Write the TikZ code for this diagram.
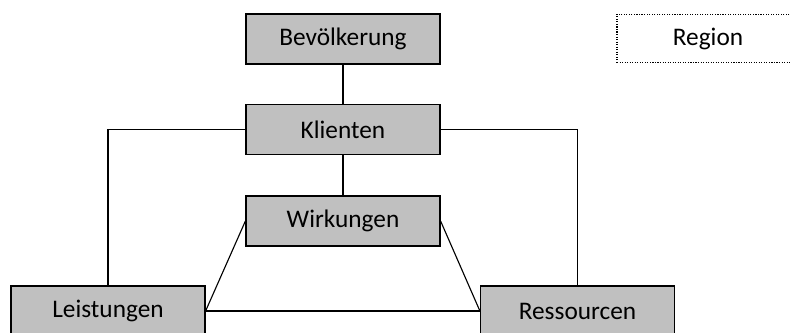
\documentclass[tikz,border=0pt]{standalone}
\usepackage{fontspec}
\setmainfont{Carlito}
\definecolor{boxgray}{RGB}{192,192,192}
\tikzset{
  gbox/.style={draw=black, fill=boxgray, line width=0.8pt, minimum width=4.85cm, minimum height=1.25cm, inner sep=0pt, font=\fontsize{18}{22}\selectfont},
  regbox/.style={draw=black, densely dotted, line width=0.8pt, minimum width=4.55cm, minimum height=1.22cm, inner sep=0pt, font=\fontsize{18}{22}\selectfont},
  link/.style={line width=0.8pt}
}

\begin{document}
\begin{tikzpicture}[x=0.025cm, y=-0.025cm]
			%%%%% START %%%%%
			\useasboundingbox (0, 0) rectangle (791, 332);
			\clip (0, 0) rectangle (791, 332);
			
			\node[gbox] (bev) at (343, 39) {Bevölkerung};
			\node[gbox] (kli) at (343, 129.5) {Klienten};
			\node[gbox] (wir) at (343, 221) {Wirkungen};
			\node[gbox] (lei) at (108, 311) {Leistungen};
			\node[gbox] (res) at (577.5, 311) {Ressourcen};
			
			\node[regbox] (reg) at (708, 38.5) {Region};
			
			\draw[link] (bev) -- (kli);
			\draw[link] (kli) -- (wir);
			\draw[link] (kli.west) -| (lei.north);
			\draw[link] (kli.east) -| (res.north);
			
			\draw[link] (wir.west) -- (lei.east);
			\draw[link] (wir.east) -- (res.west);
			\draw[link] (lei.east) -- (res.west);
			
			%%%%% END %%%%%
\end{tikzpicture}
\end{document}
